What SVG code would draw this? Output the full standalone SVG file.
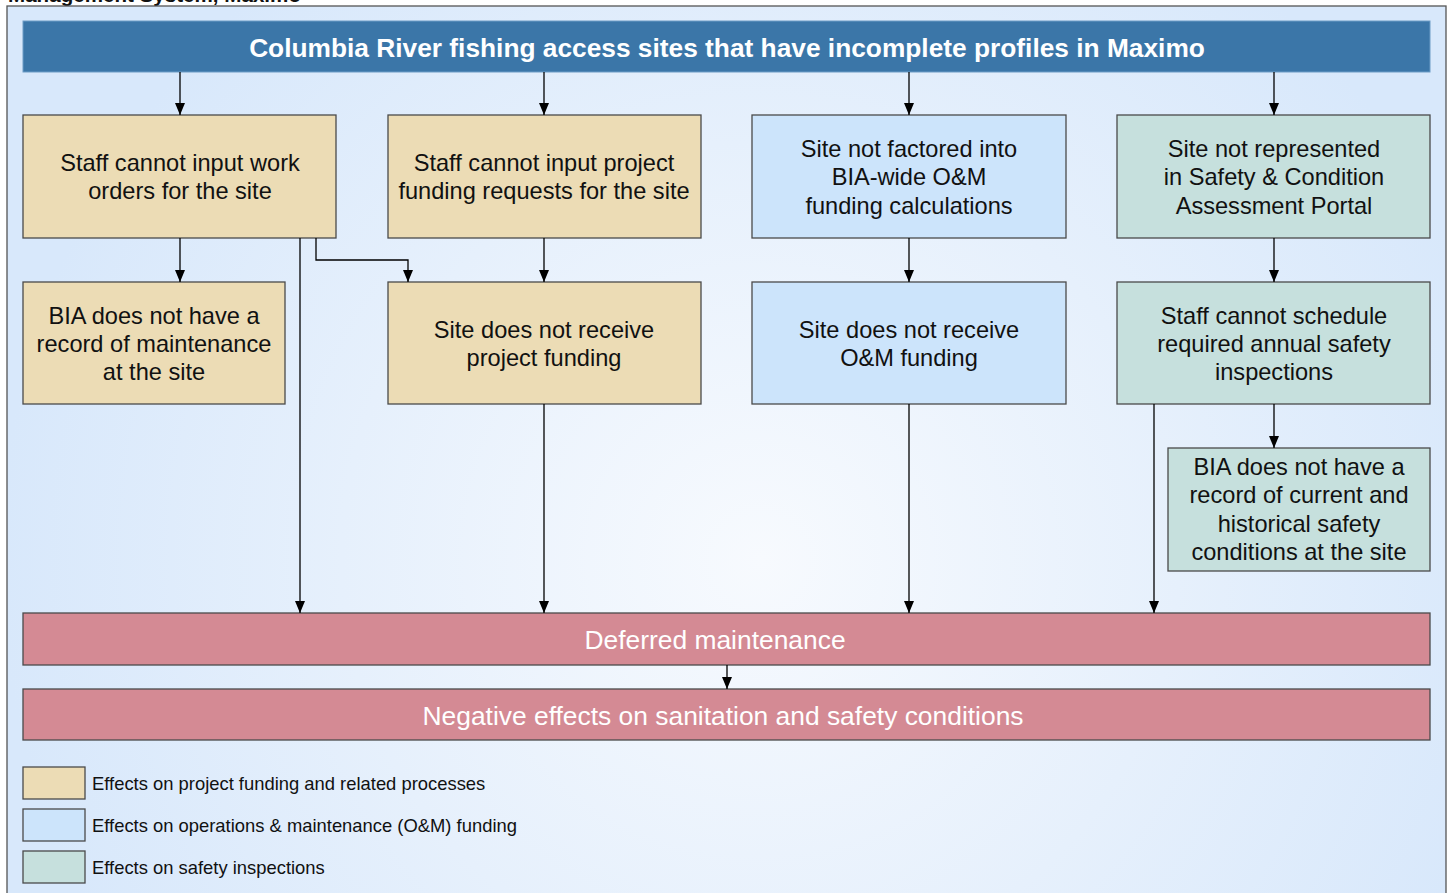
<svg xmlns="http://www.w3.org/2000/svg" width="1448" height="893" viewBox="0 0 1448 893">
<defs>
<radialGradient id="bg" gradientUnits="userSpaceOnUse" cx="760" cy="560" r="760">
<stop offset="0" stop-color="#f7fafe"/>
<stop offset="0.55" stop-color="#e6f0fc"/>
<stop offset="1" stop-color="#d8e8fb"/>
</radialGradient>
<marker id="ah" markerWidth="12" markerHeight="10" refX="12" refY="5" orient="auto" markerUnits="userSpaceOnUse">
<path d="M0,0 L12,5 L0,10 Z" fill="#000"/>
</marker>
<style>
.box{stroke:#4a4a4a;stroke-width:1.3}
.tan{fill:#ecdcb5}
.blue{fill:#cce4fb}
.green{fill:#c6e0dd}
.pink{fill:#d48a94}
.t{font-family:"Liberation Sans",Arial,sans-serif;font-size:23.6px;fill:#111;text-anchor:middle}
.w{font-family:"Liberation Sans",Arial,sans-serif;font-size:26.4px;fill:#fff;text-anchor:middle}
.lg{font-family:"Liberation Sans",Arial,sans-serif;font-size:18.4px;fill:#111}
.c{stroke:#000;stroke-width:1.3;fill:none;marker-end:url(#ah)}
</style>
</defs>
<text x="8" y="2" font-family="Liberation Sans,Arial,sans-serif" font-size="20.6" font-weight="bold" fill="#111">Management System, Maximo</text>
<rect x="7" y="6" width="1439" height="900" fill="url(#bg)" stroke="#555" stroke-width="1.3"/>

<g id="title">
<rect x="23" y="21" width="1407" height="51" fill="#3b76a8" stroke="#6d9cc6" stroke-width="1"/>
<text x="727" y="57" font-family="Liberation Sans,Arial,sans-serif" font-size="26.3" font-weight="bold" fill="#fff" text-anchor="middle">Columbia River fishing access sites that have incomplete profiles in Maximo</text>
</g>

<g id="n1"><rect class="box tan" x="23" y="115" width="313" height="123"/>
<text class="t" x="180" y="171">Staff cannot input work</text><text class="t" x="180" y="199">orders for the site</text></g>
<g id="n2"><rect class="box tan" x="388" y="115" width="313" height="123"/>
<text class="t" x="544" y="171">Staff cannot input project</text><text class="t" x="544" y="199">funding requests for the site</text></g>
<g id="n3"><rect class="box blue" x="752" y="115" width="314" height="123"/>
<text class="t" x="909" y="157">Site not factored into</text><text class="t" x="909" y="185">BIA-wide O&amp;M</text><text class="t" x="909" y="214">funding calculations</text></g>
<g id="n4"><rect class="box green" x="1117" y="115" width="313" height="123"/>
<text class="t" x="1274" y="157">Site not represented</text><text class="t" x="1274" y="185">in Safety &amp; Condition</text><text class="t" x="1274" y="214">Assessment Portal</text></g>

<g id="n5"><rect class="box tan" x="23" y="282" width="262" height="122"/>
<text class="t" x="154" y="324">BIA does not have a</text><text class="t" x="154" y="352">record of maintenance</text><text class="t" x="154" y="380">at the site</text></g>
<g id="n6"><rect class="box tan" x="388" y="282" width="313" height="122"/>
<text class="t" x="544" y="338">Site does not receive</text><text class="t" x="544" y="366">project funding</text></g>
<g id="n7"><rect class="box blue" x="752" y="282" width="314" height="122"/>
<text class="t" x="909" y="338">Site does not receive</text><text class="t" x="909" y="366">O&amp;M funding</text></g>
<g id="n8"><rect class="box green" x="1117" y="282" width="313" height="122"/>
<text class="t" x="1274" y="324">Staff cannot schedule</text><text class="t" x="1274" y="352">required annual safety</text><text class="t" x="1274" y="380">inspections</text></g>
<g id="n9"><rect class="box green" x="1168" y="448" width="262" height="123"/>
<text class="t" x="1299" y="475">BIA does not have a</text><text class="t" x="1299" y="503">record of current and</text><text class="t" x="1299" y="532">historical safety</text><text class="t" x="1299" y="560">conditions at the site</text></g>

<g id="deferred"><rect class="box pink" x="23" y="613" width="1407" height="52"/>
<text class="w" x="715" y="649">Deferred maintenance</text></g>
<g id="negative"><rect class="box pink" x="23" y="689" width="1407" height="51"/>
<text class="w" x="723" y="725">Negative effects on sanitation and safety conditions</text></g>

<g id="connectors">
<line class="c" x1="180" y1="72" x2="180" y2="115"/>
<line class="c" x1="544" y1="72" x2="544" y2="115"/>
<line class="c" x1="909" y1="72" x2="909" y2="115"/>
<line class="c" x1="1274" y1="72" x2="1274" y2="115"/>
<line class="c" x1="180" y1="238" x2="180" y2="282"/>
<line class="c" x1="544" y1="238" x2="544" y2="282"/>
<line class="c" x1="909" y1="238" x2="909" y2="282"/>
<line class="c" x1="1274" y1="238" x2="1274" y2="282"/>
<polyline class="c" points="316,238 316,260 408,260 408,282"/>
<line class="c" x1="300" y1="238" x2="300" y2="613"/>
<line class="c" x1="544" y1="404" x2="544" y2="613"/>
<line class="c" x1="909" y1="404" x2="909" y2="613"/>
<line class="c" x1="1154" y1="404" x2="1154" y2="613"/>
<line class="c" x1="1274" y1="404" x2="1274" y2="448"/>
<line class="c" x1="727" y1="665" x2="727" y2="689"/>
</g>

<g id="legend">
<rect class="box tan" x="23" y="767" width="62" height="32"/>
<text class="lg" x="92" y="790">Effects on project funding and related processes</text>
<rect class="box blue" x="23" y="809" width="62" height="32"/>
<text class="lg" x="92" y="832">Effects on operations &amp; maintenance (O&amp;M) funding</text>
<rect class="box green" x="23" y="851" width="62" height="32"/>
<text class="lg" x="92" y="874">Effects on safety inspections</text>
</g>
</svg>
